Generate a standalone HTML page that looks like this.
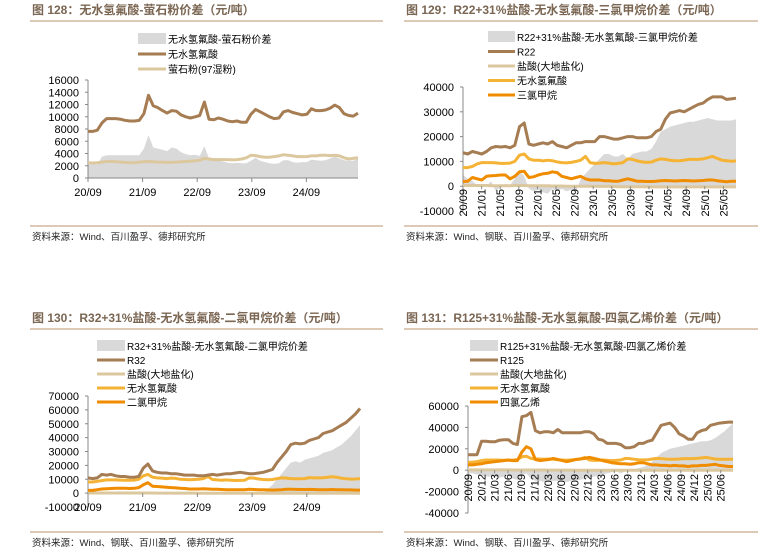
<!DOCTYPE html>
<html><head><meta charset="utf-8">
<style>
html,body{margin:0;padding:0;background:#fff;}
svg{display:block;font-family:"Liberation Sans","Noto Sans CJK SC",sans-serif;}
.title{font-size:12px;font-weight:bold;fill:#7a6652;}
.src{font-size:9.5px;fill:#222;}
.tick{font-size:11px;fill:#000;}
.leg{font-size:10px;fill:#000;}
</style></head>
<body>
<svg id="root" width="776" height="558" viewBox="0 0 776 558"></svg>
<script>
// ---------- data ----------
const c1Ticks=[0,2000,4000,6000,8000,10000,12000,14000,16000];
const c1Cats=["20/09","21/09","22/09","23/09","24/09"];
const c1HF=[7600,7600,7800,9000,9700,9700,9700,9600,9400,9300,9300,9400,10500,13500,11800,11500,11000,10600,11000,10900,10300,10000,9800,10000,10200,12400,9600,9500,9800,9600,9300,9200,9300,9100,9100,10400,11200,10800,10400,10000,9700,9800,10800,11000,10700,10500,10300,10400,11300,11000,11000,11100,11400,11900,11500,10500,10200,10100,10600];
const c1Fluor=[2500,2450,2500,2600,2700,2700,2650,2600,2550,2500,2500,2600,2650,2700,2650,2600,2600,2550,2550,2600,2650,2700,2750,2800,2900,3200,3100,3000,3000,3000,3000,2950,3000,3100,3300,3700,3650,3500,3400,3400,3500,3600,3800,3700,3600,3500,3500,3500,3600,3600,3700,3700,3650,3700,3600,3300,3100,3200,3300];
const c1Spread=[2200,2200,2200,3500,3700,3700,3700,3700,3700,3700,3700,3700,4800,7000,5000,4800,4600,4400,5000,4800,4200,3900,3700,3800,3600,5200,3200,3000,2800,2700,2500,2400,2500,2400,2400,2800,3300,2800,2600,2400,2300,2400,2900,2900,2600,2500,2600,2600,3000,2900,2800,2900,3200,3500,3200,2900,2800,2800,3200];

const c2Ticks=[-10000,0,10000,20000,30000,40000];
const c2Cats=["20/09","21/01","21/05","21/09","22/01","22/05","22/09","23/01","23/05","23/09","24/01","24/05","24/09","25/01","25/05"];
const c2R22=[13500,13000,14000,13500,13000,14000,15500,16000,15800,16000,15500,16500,24000,25500,17000,16500,17000,17500,17000,18000,16500,16000,15500,16500,17500,17500,18000,18000,18000,20000,20000,19500,19000,19000,19500,20000,20000,19500,19500,19500,20000,22000,23000,27000,29500,30000,30500,30000,31000,32000,33000,33500,35000,36000,36000,36000,35000,35200,35500];
const c2HCl=[300,300,300,300,300,300,200,200,200,200,200,300,300,300,200,200,200,200,200,100,100,100,0,0,0,0,0,0,0,-100,-100,-100,-100,-200,-200,-200,-200,-200,-200,-200,-300,-300,-300,-300,-300,-300,-300,-300,-300,-300,-300,-300,-300,-300,-300,-300,-300,-300,-300];
const c2HF=[7500,7500,8000,9000,9500,9500,9500,9400,9200,9200,9300,10000,12500,13000,11000,10500,10500,10200,10500,10300,9800,9500,9400,9600,10000,10500,12000,9500,9200,9300,9500,9300,9000,9200,9500,11000,10800,10200,9800,9600,9700,10500,11000,10800,10500,10300,10300,10500,10800,10800,10800,11000,11500,12000,11200,10500,10300,10100,10200];
const c2CHCl3=[1900,2000,3500,3000,2500,4000,4200,4300,4500,4500,3000,4000,5800,6000,3500,3800,4500,5000,5200,5800,5500,4000,3500,3000,3500,4000,3000,2500,2500,2500,2200,2200,2000,2000,2500,3000,2500,2000,2000,1900,1900,2000,2200,2300,2200,2100,2200,2300,2200,2100,2200,2300,2500,2500,2200,2000,1800,2000,2000];
const c2Spread=[4500,3000,2000,500,-500,200,2000,-2000,0,1000,500,3000,6000,4000,-1000,-2000,-1500,-2500,-3000,-1000,-2000,-1000,-2000,-1500,-2500,3000,5000,7000,9000,11000,13000,13000,12000,12000,13000,11000,13000,13500,14000,14000,15000,18000,22000,23000,24000,24500,25000,25500,26000,26000,26500,27000,27500,27000,26500,26500,26500,26500,27000];

const c3Ticks=[-10000,0,10000,20000,30000,40000,50000,60000,70000];
const c3Cats=["20/09","21/09","22/09","23/09","24/09"];
const c3R32=[11000,10500,11000,13500,13000,13500,12500,12000,12000,11500,11500,12000,18000,21000,16000,15000,14500,14500,14000,14000,13500,13000,13000,13000,12500,12500,13000,13500,13000,13500,14000,14000,14500,15000,14500,14000,14000,14500,15000,16000,17000,22000,26000,30000,35000,36000,35500,36000,38000,39000,40000,43000,44000,45000,47000,49000,51000,54000,57000,61000];
const c3HCl=[100,100,100,100,100,100,100,100,100,100,100,100,100,100,100,0,0,0,0,0,0,0,0,0,-100,-100,-100,-100,-100,-100,-100,-100,-100,-100,-100,-100,-100,-100,-100,-100,-100,-100,-100,-100,-100,-100,-100,-100,-100,-100,-100,-100,-100,-100,-100,-100,-100,-100,-100,-100];
const c3HF=[8000,8000,8500,9000,9500,9500,9500,9400,9300,9300,9400,10000,12500,13500,11500,11000,10800,10500,10800,10600,10000,9800,9600,9800,10000,10500,12000,9800,9500,9300,9500,9300,9100,9200,9300,11000,10800,10200,9800,9600,9800,10500,11000,10800,10500,10300,10300,10500,11200,11000,11000,11100,11400,11800,11500,10700,10300,10100,10200,10500];
const c3CH2Cl2=[2000,2000,2500,3000,3200,3300,3500,3500,3500,3300,3500,4000,6000,7500,5000,4800,4500,4300,4000,3800,3500,3300,3000,3000,3000,3200,3000,2800,2800,2600,2500,2500,2500,2400,2500,2800,2600,2500,2400,2300,2200,2300,2500,2800,2800,2700,2600,2600,2700,2600,2500,2400,2500,2600,2500,2400,2300,2300,2200,2200];
const c3Spread=[300,300,300,300,300,300,300,300,300,300,300,300,800,1200,300,300,300,300,300,300,300,300,300,300,300,300,300,300,300,300,300,300,300,300,300,300,300,300,300,3000,6000,10000,14000,18000,22000,23000,22000,24000,25000,26000,27000,29000,30000,31000,33000,35000,38000,41000,45000,49000];

const c4Ticks=[-40000,-20000,0,20000,40000,60000];
const c4Cats=["20/09","20/12","21/03","21/06","21/09","21/12","22/03","22/06","22/09","22/12","23/03","23/06","23/09","23/12","24/03","24/06","24/09","24/12","25/03","25/06"];
const c4R125=[14500,14500,14500,27000,27000,26500,26500,28000,28500,28500,25000,24000,50000,51000,54000,37000,35000,36000,36000,35000,38000,35000,35000,35000,35000,35000,36000,36000,34000,29000,28000,25000,25000,25000,24000,21000,21000,22000,25000,25000,27000,28000,35000,42000,43000,44000,40000,34000,32000,29000,29000,35000,37000,38000,42000,43000,44000,44500,45000,45000];
const c4HCl=[300,300,300,300,300,300,300,300,300,300,200,200,200,200,200,200,200,200,100,100,100,100,100,100,0,0,0,0,0,0,0,0,0,0,0,0,0,0,0,0,0,0,0,0,0,0,0,0,0,0,0,0,0,0,0,0,0,0,0,0];
const c4HF=[7500,7500,8000,9000,9500,9500,9500,9400,9300,9300,9400,10000,12500,13000,11000,10500,10500,10200,10500,10300,9800,9500,9400,9600,10000,10500,12000,9500,9200,9300,9500,9300,9000,9200,9500,11000,10800,10200,9800,9600,9700,10500,11000,10800,10500,10300,10300,10500,10800,10800,10800,11000,11500,12000,11200,10500,10300,10100,10200,10200];
const c4PCE=[5000,5000,5500,6000,7000,7500,8000,8500,9000,9500,9000,9000,17000,22000,20000,10000,9000,9500,10000,11000,10000,9000,8000,9000,10000,10500,11000,12000,11000,10000,9000,8000,7000,6500,6000,6000,5500,6000,7000,7000,6000,5000,5000,4500,4500,4000,4500,4000,4000,3500,4000,4000,4500,4500,5000,5500,4500,4000,3500,3500];
const c4Spread=[-3000,-3000,-4000,-5000,-6000,-6000,-6000,-7000,-6000,-5000,-8000,-9000,-5000,-3000,-8000,-10000,-10000,-11000,-11000,-10000,-10000,-11000,-11000,-10000,-10000,-9000,-8000,-7000,-6000,-5000,-4000,-3000,-2000,-1000,-3000,-1000,500,1000,2000,3000,5000,8000,12000,16000,18000,20000,21000,22000,23000,24000,25000,26000,27000,27000,28000,30000,33000,36000,40000,44000];

// ---------- rendering ----------
const NS="http://www.w3.org/2000/svg";
const root=document.getElementById('root');
function mk(tag,attrs,parent){const e=document.createElementNS(NS,tag);for(const k in attrs)e.setAttribute(k,attrs[k]);(parent||root).appendChild(e);return e;}
function txt(s,attrs,parent){const e=mk('text',attrs,parent);e.textContent=s;return e;}

const COL={gray:"#d9d9d9",brown:"#a67c52",tan:"#dcc89e",hf:"#f5b335",or:"#f08c00"};

function panel(cfg){
  const g=mk('g',{});
  
  
  const t=txt(cfg.title,{x:cfg.rx0+2,y:cfg.ty,class:'title'},g);
  
  
  mk('line',{x1:cfg.rx0,x2:cfg.rx1,y1:cfg.ty+7,y2:cfg.ty+7,stroke:"#c8a98a","stroke-width":1.2},g);
  mk('line',{x1:cfg.rx0,x2:cfg.rx1,y1:cfg.sy,y2:cfg.sy,stroke:"#c8a98a","stroke-width":1.2},g);
  const s=txt(cfg.src,{x:cfg.rx0+2,y:cfg.sy+14,class:'src'},g);
  
  

  const yS=v=>cfg.y0-(v-cfg.ymin)*(cfg.y0-cfg.y1)/(cfg.ymax-cfg.ymin);
  const xS=(i,n)=>cfg.x0+i*(cfg.xe-cfg.x0)/(n-1);
  const z=yS(0);
  // spread area
  const sp=cfg.spread;let d="M"+xS(0,sp.length)+","+z;
  sp.forEach((v,i)=>{d+=" L"+xS(i,sp.length).toFixed(1)+","+yS(v).toFixed(1);});
  d+=" L"+xS(sp.length-1,sp.length)+","+z+" Z";
  const area=mk('path',{d:d,fill:COL.gray,stroke:"none"},g);
  
  
  // axes
  mk('line',{x1:cfg.x0,x2:cfg.x0,y1:yS(cfg.ymax),y2:yS(cfg.ymin),stroke:"#888","stroke-width":1},g);
  mk('line',{x1:cfg.x0,x2:cfg.xe,y1:z,y2:z,stroke:"#888","stroke-width":1},g);
  cfg.ticks.forEach(v=>{
    mk('line',{x1:cfg.x0-3,x2:cfg.x0,y1:yS(v),y2:yS(v),stroke:"#888"},g);
    const tl=txt(String(v),{x:cfg.x0-9,y:yS(v)+4,class:'tick','text-anchor':'end'},g);
    
    
  });
  // lines
  cfg.lines.forEach(L=>{
    const n=L.data.length;
    const pts=L.data.map((v,i)=>xS(i,n).toFixed(1)+","+yS(v).toFixed(1)).join(" ");
    const pl=mk('polyline',{points:pts,fill:"none",stroke:L.color,"stroke-width":3,"stroke-linejoin":"round"},g);
    
    
  });
  // x labels
  const cats=cfg.cats;
  cats.forEach((c,i)=>{
    const x=cfg.x0+i*cfg.catStep;
    if(cfg.rot){
      mk('line',{x1:x,x2:x,y1:z,y2:z+3,stroke:"#888"},g);
      const tl=txt(c,{x:x+4,y:cfg.labY,class:'tick','text-anchor':'end',transform:`rotate(-90 ${x+4} ${cfg.labY})`},g);
      
      
    }else{
      mk('line',{x1:x,x2:x,y1:z,y2:z+4,stroke:"#888"},g);
      const tl=txt(c,{x:x,y:cfg.labY,class:'tick','text-anchor':'middle'},g);
      
      
    }
  });
  // legend
  cfg.legend.forEach((L,i)=>{
    const y=cfg.ly+i*cfg.lstep;
    const le=mk('g',{},g);
    
    
    if(L.box) mk('rect',{x:cfg.lx,y:y-6,width:cfg.lw,height:11,fill:COL.gray},le);
    else mk('line',{x1:cfg.lx,x2:cfg.lx+cfg.lw,y1:y,y2:y,stroke:L.color,"stroke-width":3},le);
    txt(L.label,{x:cfg.lx+cfg.lw+2,y:y+4,class:'leg'},le);
  });
}

panel({name:"chart-128",title:"图 128：无水氢氟酸-萤石粉价差（元/吨）",rx0:30,rx1:383,ty:14,sy:226,src:"资料来源：Wind、百川盈孚、德邦研究所",
  x0:88,xe:358,y0:178,y1:80,ymin:0,ymax:16000,ticks:c1Ticks,spread:c1Spread,
  lines:[{key:"fluorite",data:c1Fluor,color:COL.tan},{key:"hf",data:c1HF,color:COL.brown}],
  cats:c1Cats,catStep:54.6,rot:false,labY:196,
  legend:[{box:1,label:"无水氢氟酸-萤石粉价差"},{color:COL.brown,label:"无水氢氟酸"},{color:COL.tan,label:"萤石粉(97湿粉)"}],
  lx:138,lw:28,ly:39,lstep:15});

panel({name:"chart-129",title:"图 129：R22+31%盐酸-无水氢氟酸-三氯甲烷价差（元/吨）",rx0:404,rx1:758,ty:14,sy:226,src:"资料来源：Wind、钢联、百川盈孚、德邦研究所",
  x0:463,xe:736,y0:211,y1:87,ymin:-10000,ymax:40000,ticks:c2Ticks,spread:c2Spread,
  lines:[{key:"hcl",data:c2HCl,color:COL.tan},{key:"chcl3",data:c2CHCl3,color:COL.or},{key:"hf",data:c2HF,color:COL.hf},{key:"r22",data:c2R22,color:COL.brown}],
  cats:c2Cats,catStep:18.6,rot:true,labY:189,
  legend:[{box:1,label:"R22+31%盐酸-无水氢氟酸-三氯甲烷价差"},{color:COL.brown,label:"R22"},{color:COL.tan,label:"盐酸(大地盐化)"},{color:COL.hf,label:"无水氢氟酸"},{color:COL.or,label:"三氯甲烷"}],
  lx:488,lw:27,ly:37,lstep:14.5});

panel({name:"chart-130",title:"图 130：R32+31%盐酸-无水氢氟酸-二氯甲烷价差（元/吨）",rx0:30,rx1:383,ty:322,sy:532,src:"资料来源：Wind、钢联、百川盈孚、德邦研究所",
  x0:88,xe:360,y0:507,y1:396,ymin:-10000,ymax:70000,ticks:c3Ticks,spread:c3Spread,
  lines:[{key:"hcl",data:c3HCl,color:COL.tan},{key:"ch2cl2",data:c3CH2Cl2,color:COL.or},{key:"hf",data:c3HF,color:COL.hf},{key:"r32",data:c3R32,color:COL.brown}],
  cats:c3Cats,catStep:54.7,rot:false,labY:511,
  legend:[{box:1,label:"R32+31%盐酸-无水氢氟酸-二氯甲烷价差"},{color:COL.brown,label:"R32"},{color:COL.tan,label:"盐酸(大地盐化)"},{color:COL.hf,label:"无水氢氟酸"},{color:COL.or,label:"二氯甲烷"}],
  lx:97,lw:28,ly:346,lstep:14});

panel({name:"chart-131",title:"图 131：R125+31%盐酸-无水氢氟酸-四氯乙烯价差（元/吨）",rx0:404,rx1:758,ty:322,sy:532,src:"资料来源：Wind、钢联、百川盈孚、德邦研究所",
  x0:468,xe:733,y0:513,y1:406,ymin:-40000,ymax:60000,ticks:c4Ticks,spread:c4Spread,
  lines:[{key:"hcl",data:c4HCl,color:COL.tan},{key:"hf",data:c4HF,color:COL.hf},{key:"pce",data:c4PCE,color:COL.or},{key:"r125",data:c4R125,color:COL.brown}],
  cats:c4Cats,catStep:13.3,rot:true,labY:474,
  legend:[{box:1,label:"R125+31%盐酸-无水氢氟酸-四氯乙烯价差"},{color:COL.brown,label:"R125"},{color:COL.tan,label:"盐酸(大地盐化)"},{color:COL.hf,label:"无水氢氟酸"},{color:COL.or,label:"四氯乙烯"}],
  lx:470,lw:28,ly:346,lstep:14});
</script>
</body></html>
